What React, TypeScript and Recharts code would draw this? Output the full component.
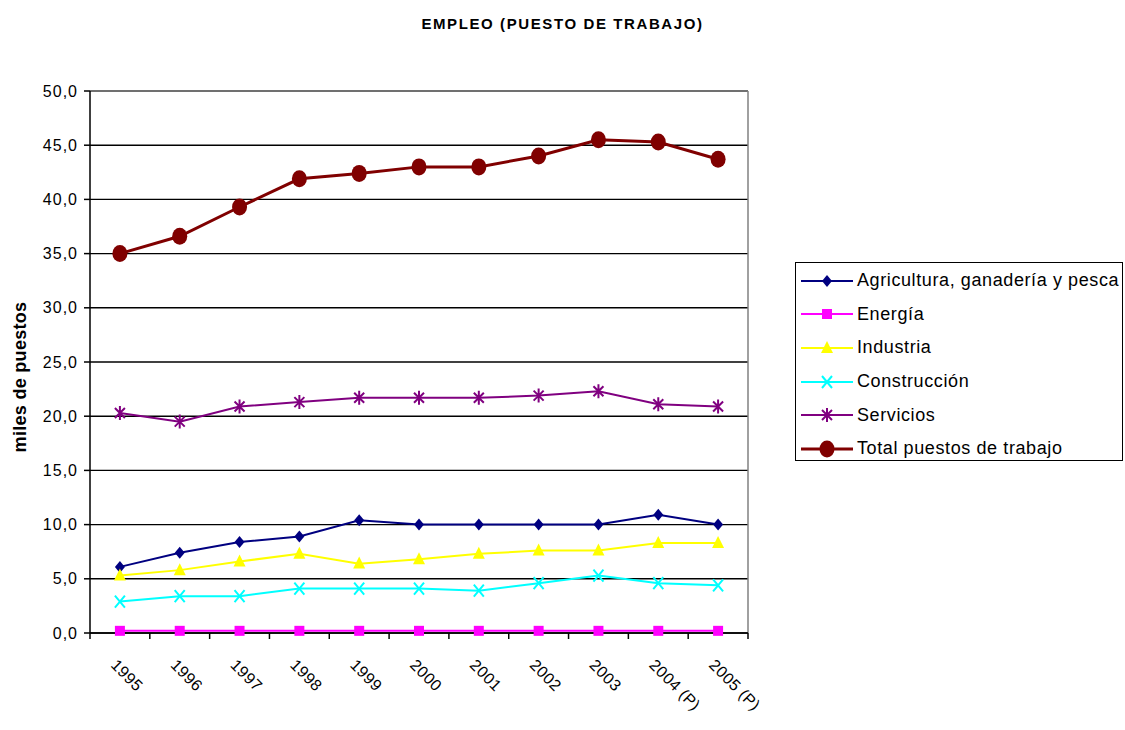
import { CartesianGrid, Legend, Line, LineChart, ReferenceLine, XAxis, YAxis } from 'recharts';

const FONT = '"Liberation Sans", Arial, sans-serif';

const years = ['1995', '1996', '1997', '1998', '1999', '2000', '2001', '2002', '2003', '2004 (P)', '2005 (P)'];
const agricultura = [6.1, 7.4, 8.4, 8.9, 10.4, 10.0, 10.0, 10.0, 10.0, 10.9, 10.0];
const energia = [0.2, 0.2, 0.2, 0.2, 0.2, 0.2, 0.2, 0.2, 0.2, 0.2, 0.2];
const industria = [5.3, 5.8, 6.6, 7.3, 6.4, 6.8, 7.3, 7.6, 7.6, 8.3, 8.3];
const construccion = [2.9, 3.4, 3.4, 4.1, 4.1, 4.1, 3.9, 4.6, 5.3, 4.6, 4.4];
const servicios = [20.3, 19.5, 20.9, 21.3, 21.7, 21.7, 21.7, 21.9, 22.3, 21.1, 20.9];
const total = [35.0, 36.6, 39.3, 41.9, 42.4, 43.0, 43.0, 44.0, 45.5, 45.3, 43.7];
const yTicks = [0, 5, 10, 15, 20, 25, 30, 35, 40, 45, 50];

const data = years.map((year, i) => ({
    i,
    year,
    agricultura: agricultura[i],
    energia: energia[i],
    industria: industria[i],
    construccion: construccion[i],
    servicios: servicios[i],
    total: total[i],
}));

// integer ticks carry the labels, half ticks carry the tick marks (between categories)
const xTicks: number[] = [];
for (let k = -0.5; k <= years.length - 0.5; k += 0.5) xTicks.push(k);

type Marker = 'diamond' | 'square' | 'triangle' | 'x' | 'star' | 'circle';

const series: { key: string; name: string; color: string; marker: Marker; width: number }[] = [
    { key: 'agricultura', name: 'Agricultura, ganadería y pesca', color: '#000080', marker: 'diamond', width: 2 },
    { key: 'energia', name: 'Energía', color: '#FF00FF', marker: 'square', width: 2 },
    { key: 'industria', name: 'Industria', color: '#FFFF00', marker: 'triangle', width: 2 },
    { key: 'construccion', name: 'Construcción', color: '#00FFFF', marker: 'x', width: 2 },
    { key: 'servicios', name: 'Servicios', color: '#800080', marker: 'star', width: 2 },
    { key: 'total', name: 'Total puestos de trabajo', color: '#800000', marker: 'circle', width: 3 },
];

function drawMarker(marker: Marker, cx: number, cy: number, color: string, key?: string | number) {
    switch (marker) {
        case 'diamond':
            return <path key={key} d={`M${cx},${cy - 6} L${cx + 5},${cy} L${cx},${cy + 6} L${cx - 5},${cy} Z`} fill={color} />;
        case 'square':
            return <rect key={key} x={cx - 5} y={cy - 5} width={10} height={10} fill={color} />;
        case 'triangle':
            return <path key={key} d={`M${cx},${cy - 7} L${cx + 6},${cy + 5} L${cx - 6},${cy + 5} Z`} fill={color} />;
        case 'x':
            return (
                <path key={key} d={`M${cx - 5},${cy - 6} L${cx + 5},${cy + 6} M${cx + 5},${cy - 6} L${cx - 5},${cy + 6}`} stroke={color} strokeWidth={2} />
            );
        case 'star':
            return (
                <path
                    key={key}
                    d={`M${cx - 5},${cy - 5} L${cx + 5},${cy + 5} M${cx + 5},${cy - 5} L${cx - 5},${cy + 5} M${cx},${cy - 7} L${cx},${cy + 7}`}
                    stroke={color}
                    strokeWidth={2}
                />
            );
        default:
            return <ellipse key={key} cx={cx} cy={cy} rx={7.5} ry={8.5} fill={color} />;
    }
}

function XTick(props: any) {
    const { x, y, payload } = props;
    const v = payload.value as number;
    if (!Number.isInteger(v)) {
        return <line x1={x} x2={x} y1={y - 8} y2={y - 2} stroke="#000" strokeWidth={1.5} />;
    }
    const tx = x - 10;
    const ty = y + 25;
    return (
        <text
            x={tx}
            y={ty}
            transform={`rotate(45 ${tx} ${ty})`}
            textAnchor="start"
            fontSize={16}
            letterSpacing={0.4}
            fontFamily={FONT}
            fill="#000"
        >
            {years[v]}
        </text>
    );
}

function LegendBox() {
    return (
        <div
            style={{
                border: '1px solid #000',
                background: '#fff',
                width: 328,
                height: 199,
                boxSizing: 'border-box',
                padding: '1px 0 0 4px',
                fontFamily: FONT,
                fontSize: 18,
                letterSpacing: 0.6,
                color: '#000',
                whiteSpace: 'nowrap',
            }}
        >
            {series.map((s) => (
                <div key={s.key} style={{ display: 'flex', alignItems: 'center', height: 33.6 }}>
                    <svg width={56} height={20} style={{ marginRight: 1, flexShrink: 0 }}>
                        <line x1={1} x2={53} y1={10} y2={10} stroke={s.color} strokeWidth={s.width} />
                        {drawMarker(s.marker, 27, 10, s.color)}
                    </svg>
                    <span>{s.name}</span>
                </div>
            ))}
        </div>
    );
}

function YLabel(props: any) {
    const { viewBox } = props;
    const cx = 20;
    const cy = viewBox.y + viewBox.height / 2 + 15;
    return (
        <text
            x={cx}
            y={cy}
            transform={`rotate(-90 ${cx} ${cy})`}
            textAnchor="middle"
            dominantBaseline="central"
            fontSize={18}
            fontWeight="bold"
            letterSpacing={0.3}
            fontFamily={FONT}
            fill="#000"
        >
            miles de puestos
        </text>
    );
}

export default function App() {
    return (
        <div style={{ position: 'absolute', left: 0, top: 0, width: 1125, height: 730, background: '#fff', overflow: 'hidden' }}>
            <div
                style={{
                    position: 'absolute',
                    top: 15,
                    left: 0,
                    width: 1125,
                    textAlign: 'center',
                    fontFamily: FONT,
                    fontWeight: 'bold',
                    fontSize: 15,
                    letterSpacing: 1.6,
                }}
            >
                EMPLEO (PUESTO DE TRABAJO)
            </div>
            <LineChart width={1125} height={730} data={data} margin={{ top: 91, right: 377, bottom: 37, left: 0 }}>
                <CartesianGrid vertical={false} stroke="#000" strokeWidth={1.4} />
                <XAxis
                    type="number"
                    dataKey="i"
                    domain={[-0.5, years.length - 0.5]}
                    ticks={xTicks}
                    interval={0}
                    tick={<XTick />}
                    tickLine={false}
                    height={60}
                    axisLine={{ stroke: '#000', strokeWidth: 1.5 }}
                />
                <YAxis
                    domain={[0, 50]}
                    ticks={yTicks}
                    interval={0}
                    width={90}
                    tickMargin={6}
                    tickFormatter={(v: number) => v.toFixed(1).replace('.', ',')}
                    tick={{ fill: '#000', fontSize: 16, fontFamily: FONT, letterSpacing: 1 }}
                    tickLine={{ stroke: '#000', strokeWidth: 1.5 }}
                    axisLine={{ stroke: '#000', strokeWidth: 1.5 }}
                    label={{ content: <YLabel /> }}
                />
                <ReferenceLine y={50} stroke="#808080" strokeWidth={1.5} />
                <ReferenceLine x={years.length - 0.5} stroke="#808080" strokeWidth={1.5} />
                <Legend
                    layout="horizontal"
                    verticalAlign="middle"
                    align="center"
                    content={<LegendBox />}
                    wrapperStyle={{ left: 795, top: 262, width: 328, height: 199 }}
                />
                {series.map((s) => (
                    <Line
                        key={s.key}
                        dataKey={s.key}
                        name={s.name}
                        stroke={s.color}
                        strokeWidth={s.width}
                        isAnimationActive={false}
                        dot={(p: any) => drawMarker(s.marker, p.cx, p.cy, s.color, p.index)}
                        activeDot={false}
                    />
                ))}
            </LineChart>
        </div>
    );
}
